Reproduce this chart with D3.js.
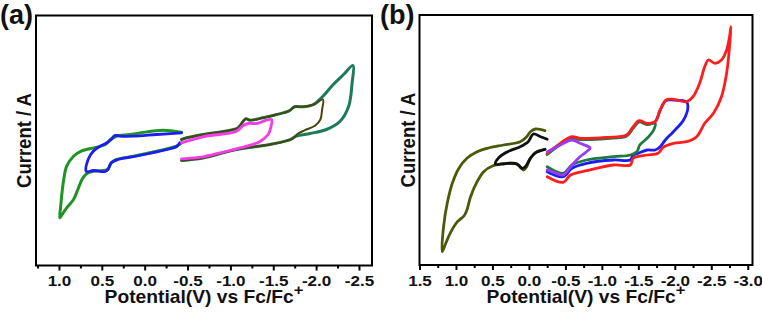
<!DOCTYPE html>
<html>
<head>
<meta charset="utf-8">
<script src="https://cdn.jsdelivr.net/npm/d3@7"></script>
<style>
  body { margin: 0; background: #fff; }
  text { font-family: "Liberation Sans", Arial, sans-serif; font-weight: bold; fill: #111; }
</style>
</head>
<body>
<svg id="chart"></svg>
<script>
const width = 762;
const height = 317;

// x ticks (potential, V vs Fc/Fc+)
const ticksA = [1.0, 0.5, 0.0, -0.5, -1.0, -1.5, -2.0, -2.5];
const minorA = [1.25, 0.75, 0.25, -0.25, -0.75, -1.25, -1.75, -2.25];
const ticksB = [1.5, 1.0, 0.5, 0.0, -0.5, -1.0, -1.5, -2.0, -2.5, -3.0];
const minorB = [1.25, 0.75, 0.25, -0.25, -0.75, -1.25, -1.75, -2.25, -2.75];

// panel (a) curves: [potential V, current (arb. units)]
const greenA = [[-0.43,0.83],[-0.22,1.03],[-0.06,0.9],[0.17,0.6],[0.33,0.43],[0.40,0.1],[0.46,-0.4],[0.64,-0.83],[0.74,-1.07],[0.83,-1.57],[0.91,-2.57],[0.95,-4.23],[0.98,-6.57],[0.99,-7.73],[0.97,-7.5],[0.91,-6.73],[0.83,-5.9],[0.78,-4.9],[0.72,-3.73],[0.66,-3.23],[0.60,-3.07],[0.48,-3.0],[0.43,-2.9],[0.39,-2.23],[0.33,-1.9],[0.13,-1.57],[-0.14,-1.07],[-0.37,-0.57],[-0.43,-0.23]];
const blueA = [[-0.43,0.77],[-0.14,0.6],[0.13,0.43],[0.29,0.43],[0.35,0.5],[0.39,0.1],[0.44,-0.23],[0.52,-0.57],[0.60,-1.07],[0.66,-1.9],[0.68,-3.1],[0.60,-3.0],[0.46,-3.1],[0.43,-2.9],[0.39,-2.23],[0.31,-1.9],[0.06,-1.5],[-0.26,-0.9],[-0.37,-0.63],[-0.41,-0.23]];
const tealA = [[-0.43,-2.0],[-0.68,-1.75],[-1.07,-0.9],[-1.46,-0.4],[-1.68,0.03],[-1.77,0.43],[-1.93,0.7],[-2.12,1.1],[-2.28,1.93],[-2.38,3.43],[-2.42,5.77],[-2.43,7.5],[-2.32,6.6],[-2.20,5.6],[-2.08,4.43],[-1.97,3.6],[-1.85,3.37],[-1.75,3.37],[-1.68,2.93],[-1.54,2.6],[-1.38,2.27],[-1.23,2.03],[-1.18,2.17],[-1.15,1.93],[-1.09,1.27],[-1.00,1.03],[-0.68,0.6],[-0.49,0.27],[-0.43,0.1]];
const oliveA = [[-0.43,0.1],[-0.49,0.27],[-0.68,0.6],[-1.00,1.03],[-1.09,1.27],[-1.15,1.93],[-1.18,2.17],[-1.23,2.03],[-1.38,2.27],[-1.54,2.6],[-1.68,2.93],[-1.75,3.37],[-1.85,3.37],[-1.97,3.6],[-2.08,4.1],[-2.07,3.1],[-2.05,2.1],[-1.99,1.5],[-1.87,1.03],[-1.79,0.7],[-1.72,0.17],[-1.46,-0.4],[-1.07,-0.9],[-0.68,-1.75],[-0.43,-2.0]];
const magentaA = [[-0.43,-0.23],[-0.68,0.37],[-1.07,0.93],[-1.15,1.5],[-1.21,1.7],[-1.31,1.7],[-1.42,2.03],[-1.48,2.1],[-1.47,1.27],[-1.44,0.6],[-1.35,-0.07],[-1.19,-0.57],[-0.88,-1.23],[-0.68,-1.63],[-0.43,-1.83]];

// panel (b) curves
const oliveB = [[-0.22,0.93],[-0.09,1.1],[-0.02,0.83],[0.03,0.33],[0.12,-0.17],[0.35,-0.5],[0.57,-0.83],[0.71,-1.17],[0.85,-1.83],[0.96,-2.83],[1.05,-4.33],[1.12,-6.33],[1.17,-8.67],[1.19,-11.17],[1.14,-10.33],[1.08,-9.33],[0.98,-8.17],[0.89,-7.6],[0.85,-7.0],[0.80,-5.67],[0.71,-4.17],[0.62,-3.17],[0.50,-2.6],[0.35,-2.4],[0.19,-2.33],[0.12,-2.67],[0.07,-3.0],[0.03,-2.67],[-0.02,-1.83],[-0.11,-1.17],[-0.22,-0.93]];
const blackB = [[-0.25,0.07],[-0.16,0.33],[-0.06,0.6],[0.01,-0.17],[0.12,-0.67],[0.26,-1.07],[0.37,-1.5],[0.44,-2.0],[0.46,-2.4],[0.30,-2.33],[0.16,-2.4],[0.10,-2.83],[0.05,-2.67],[-0.02,-1.83],[-0.09,-1.27],[-0.22,-0.93]];
const blueB = [[-0.25,-3.17],[-0.47,-3.67],[-0.59,-2.83],[-0.79,-2.33],[-1.16,-2.0],[-1.39,-2.0],[-1.43,-1.5],[-1.50,-1.33],[-1.62,-1.0],[-1.73,-1.0],[-1.80,-0.67],[-1.87,0.0],[-1.98,0.83],[-2.12,2.0],[-2.18,3.33],[-2.16,3.83],[-1.98,4.0],[-1.88,3.95],[-1.80,3.0],[-1.73,1.83],[-1.62,1.6],[-1.51,1.85],[-1.43,1.25],[-1.34,0.45],[-1.07,0.2],[-0.70,0.1],[-0.59,0.25],[-0.43,-0.4],[-0.25,-1.4]];
const greenB = [[-0.25,-2.67],[-0.47,-3.33],[-0.59,-2.5],[-0.79,-2.0],[-1.16,-1.67],[-1.39,-1.5],[-1.48,-1.17],[-1.52,-0.5],[-1.62,0.17],[-1.71,1.0],[-1.73,1.67],[-1.62,1.55],[-1.51,1.8],[-1.43,1.2],[-1.34,0.4],[-1.07,0.15],[-0.70,0.05],[-0.59,0.2],[-0.43,-0.45],[-0.25,-1.45]];
const purpleB = [[-0.25,-3.0],[-0.38,-3.33],[-0.47,-3.5],[-0.57,-2.67],[-0.70,-1.67],[-0.79,-1.17],[-0.84,-0.8],[-0.82,-0.67],[-0.70,-0.33],[-0.59,0.0],[-0.43,-0.5],[-0.25,-1.2]];
const redB = [[-0.25,-3.67],[-0.47,-4.23],[-0.57,-3.5],[-0.79,-3.07],[-1.16,-2.5],[-1.39,-2.5],[-1.43,-1.83],[-1.62,-1.5],[-1.77,-1.33],[-1.84,-0.73],[-1.98,-0.33],[-2.16,-0.17],[-2.30,0.33],[-2.41,1.67],[-2.53,2.67],[-2.64,4.33],[-2.71,6.67],[-2.75,9.33],[-2.77,11.33],[-2.75,10.33],[-2.71,9.0],[-2.64,8.0],[-2.55,7.67],[-2.46,8.0],[-2.41,7.33],[-2.34,5.67],[-2.25,4.33],[-2.16,3.83],[-1.98,4.07],[-1.88,4.0],[-1.80,3.0],[-1.73,1.83],[-1.62,1.67],[-1.51,1.93],[-1.43,1.33],[-1.34,0.5],[-1.07,0.27],[-0.70,0.17],[-0.59,0.33],[-0.43,-0.33],[-0.25,-1.33]];

const svg = d3.select("#chart")
    .attr("width", width)
    .attr("height", height);

function drawPanel(cfg) {
    const g = svg.append("g");

    const x = d3.scaleLinear().domain(cfg.xDomain).range([cfg.left, cfg.right]);
    const y = d3.scaleLinear().domain([-12.5, 12.5]).range([cfg.bottom, cfg.top]);

    const line = d3.line()
        .x(d => x(d[0]))
        .y(d => y(d[1]))
        .curve(d3.curveCatmullRom.alpha(0.5));

    // curves
    cfg.series.forEach(s => {
        g.append("path")
            .datum(s.data)
            .attr("d", line)
            .attr("fill", "none")
            .attr("stroke", s.color)
            .attr("stroke-width", s.w)
            .attr("stroke-linejoin", "round")
            .attr("stroke-linecap", "round");
    });

    // frame
    g.append("rect")
        .attr("x", cfg.left)
        .attr("y", cfg.top)
        .attr("width", cfg.right - cfg.left)
        .attr("height", cfg.bottom - cfg.top)
        .attr("fill", "none")
        .attr("stroke", "#000")
        .attr("stroke-width", 2);

    // minor ticks
    const minorAxis = g.append("g")
        .attr("transform", `translate(0,${cfg.bottom})`)
        .call(d3.axisBottom(x).tickValues(cfg.minor).tickSize(3).tickFormat(""));
    minorAxis.select(".domain").remove();
    minorAxis.selectAll("line").attr("stroke", "#000").attr("stroke-width", 2);

    // major ticks + labels
    const axis = g.append("g")
        .attr("transform", `translate(0,${cfg.bottom})`)
        .call(d3.axisBottom(x).tickValues(cfg.ticks).tickSize(5).tickFormat(d => d.toFixed(1)));
    axis.select(".domain").remove();
    axis.selectAll("line").attr("stroke", "#000").attr("stroke-width", 2);
    axis.selectAll("text")
        .attr("y", 21)
        .attr("dy", 0)
        .attr("transform", "scale(1.1,1)")
        .style("font-family", '"Liberation Sans", Arial, sans-serif')
        .style("font-weight", "bold")
        .style("font-size", "15.5px")
        .attr("fill", "#111");

    // x title
    const cx = (cfg.left + cfg.right) / 2;
    const title = g.append("text")
        .attr("transform", `translate(${cx},303) scale(1.1,1)`)
        .attr("text-anchor", "middle")
        .style("font-size", "17.5px");
    title.append("tspan").text("Potential(V) vs Fc/Fc");
    title.append("tspan").attr("dy", -8).style("font-size", "15px").text("+");

    // y title
    g.append("text")
        .attr("transform", `translate(${cfg.left - 5},${(cfg.top + cfg.bottom) / 2}) scale(1.1,1) rotate(-90)`)
        .attr("text-anchor", "middle")
        .style("font-size", "18.5px")
        .text("Current / A");

    // panel letter
    g.append("text")
        .attr("x", cfg.labelX)
        .attr("y", 24)
        .style("font-size", "27px")
        .text(cfg.label);
}

drawPanel({
    left: 36, right: 372, top: 15.5, bottom: 265.5,
    xDomain: [1.268, -2.652],
    ticks: ticksA, minor: minorA,
    label: "(a)", labelX: 0,
    series: [
        { data: greenA, color: "#1f9424", w: 3 },
        { data: blueA, color: "#1c1cf5", w: 2.8 },
        { data: tealA, color: "#1d7a58", w: 3 },
        { data: oliveA, color: "#45470f", w: 2 },
        { data: magentaA, color: "#f53ce6", w: 2.8 }
    ]
});

drawPanel({
    left: 419.5, right: 752.5, top: 15, bottom: 265,
    xDomain: [1.5, -3.065],
    ticks: ticksB, minor: minorB,
    label: "(b)", labelX: 380,
    series: [
        { data: oliveB, color: "#495a08", w: 2.8 },
        { data: blackB, color: "#111111", w: 2.8 },
        { data: blueB, color: "#1c1cf5", w: 2.8 },
        { data: greenB, color: "#1d7a3c", w: 2.8 },
        { data: redB, color: "#fa1e1e", w: 2.8 },
        { data: purpleB, color: "#9a3cf5", w: 2.8 }
    ]
});
</script>
</body>
</html>
